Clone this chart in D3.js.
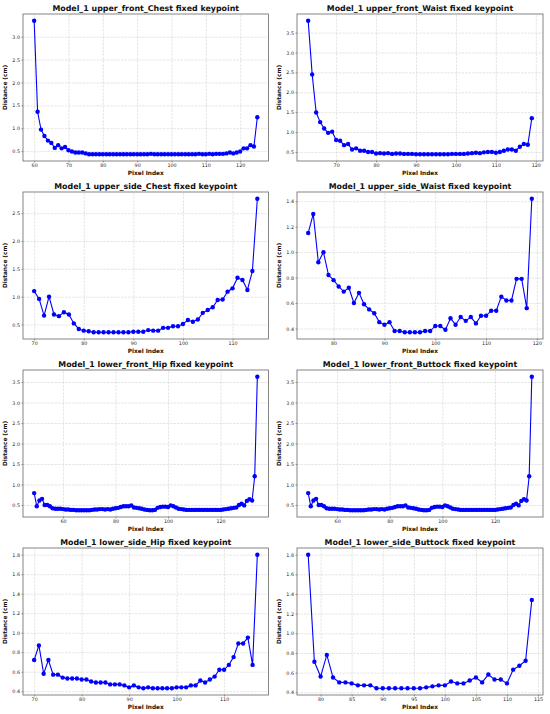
<!DOCTYPE html>
<html><head><meta charset="utf-8">
<script src="https://cdn.jsdelivr.net/npm/d3@7"></script>
<style>
html,body{margin:0;padding:0;background:#fff;}
svg{display:block;font-family:"DejaVu Sans",sans-serif;}
</style></head>
<body>
<svg id="chart" width="550" height="714"></svg>
<script>
// ---- data ----
const titles = [
  "Model_1 upper_front_Chest fixed keypoint",
  "Model_1 upper_front_Waist fixed keypoint",
  "Model_1 upper_side_Chest fixed keypoint",
  "Model_1 upper_side_Waist fixed keypoint",
  "Model_1 lower_front_Hip fixed keypoint",
  "Model_1 lower_front_Buttock fixed keypoint",
  "Model_1 lower_side_Hip fixed keypoint",
  "Model_1 lower_side_Buttock fixed keypoint"
];
const xStarts = [60, 63, 70, 75, 49, 49, 70, 78];

const upperFrontChest = [3.35,1.36,0.97,0.83,0.73,0.68,0.57,0.63,0.56,0.59,
  0.52,0.49,0.47,0.47,0.47,0.45,0.43,0.43,0.43,0.43,
  0.43,0.43,0.43,0.43,0.43,0.43,0.43,0.43,0.43,0.43,
  0.43,0.43,0.43,0.43,0.44,0.43,0.43,0.43,0.43,0.43,
  0.43,0.43,0.43,0.43,0.43,0.43,0.43,0.43,0.44,0.43,
  0.43,0.44,0.43,0.44,0.44,0.44,0.45,0.47,0.45,0.47,
  0.49,0.56,0.56,0.63,0.60,1.24];
const upperFrontWaist = [3.80,2.45,1.49,1.25,1.09,0.98,1.01,0.80,0.78,0.67,
  0.70,0.56,0.59,0.53,0.53,0.50,0.50,0.46,0.47,0.46,
  0.47,0.45,0.46,0.46,0.45,0.45,0.45,0.44,0.44,0.44,
  0.44,0.44,0.44,0.44,0.44,0.44,0.45,0.45,0.45,0.45,
  0.46,0.47,0.48,0.47,0.49,0.50,0.50,0.48,0.50,0.53,
  0.56,0.56,0.53,0.63,0.70,0.68,1.35];
const upperSideChest = [1.10,0.96,0.66,1.00,0.68,0.65,0.72,0.68,0.52,0.42,
  0.39,0.38,0.36,0.36,0.36,0.36,0.36,0.36,0.36,0.36,
  0.37,0.37,0.37,0.40,0.39,0.39,0.44,0.44,0.47,0.47,
  0.51,0.58,0.55,0.59,0.71,0.76,0.81,0.94,0.95,1.09,
  1.15,1.34,1.30,1.12,1.46,2.76];
const upperSideWaist = [1.15,1.30,0.92,1.00,0.82,0.78,0.73,0.69,0.72,0.60,
  0.68,0.59,0.55,0.52,0.45,0.43,0.45,0.38,0.38,0.37,
  0.37,0.37,0.37,0.38,0.38,0.42,0.42,0.39,0.48,0.43,
  0.49,0.46,0.49,0.44,0.50,0.50,0.54,0.54,0.65,0.62,
  0.62,0.79,0.79,0.56,1.42];
const lowerFrontHip = [0.79,0.47,0.61,0.65,0.50,0.50,0.47,0.42,0.41,0.41,
  0.41,0.40,0.39,0.39,0.38,0.38,0.37,0.37,0.37,0.37,
  0.37,0.37,0.38,0.39,0.39,0.40,0.40,0.39,0.40,0.39,
  0.41,0.42,0.43,0.45,0.47,0.47,0.47,0.49,0.44,0.43,
  0.42,0.41,0.39,0.38,0.37,0.37,0.38,0.43,0.45,0.46,
  0.46,0.45,0.49,0.47,0.44,0.41,0.40,0.39,0.38,0.38,
  0.38,0.38,0.38,0.38,0.38,0.38,0.38,0.38,0.38,0.38,
  0.38,0.38,0.39,0.40,0.41,0.42,0.43,0.44,0.50,0.53,
  0.49,0.60,0.64,0.61,1.20,3.63];
const lowerFrontButtock = [0.79,0.47,0.61,0.65,0.50,0.50,0.47,0.42,0.41,0.41,
  0.41,0.40,0.39,0.39,0.38,0.38,0.37,0.37,0.37,0.37,
  0.37,0.37,0.38,0.39,0.39,0.40,0.40,0.39,0.40,0.39,
  0.41,0.42,0.43,0.45,0.47,0.47,0.47,0.49,0.44,0.43,
  0.42,0.41,0.39,0.38,0.37,0.37,0.38,0.43,0.45,0.46,
  0.46,0.45,0.49,0.47,0.44,0.41,0.40,0.39,0.38,0.38,
  0.38,0.38,0.38,0.38,0.38,0.38,0.38,0.38,0.38,0.38,
  0.38,0.38,0.39,0.40,0.41,0.42,0.43,0.44,0.50,0.53,
  0.49,0.60,0.64,0.61,1.20,3.63];
const lowerSideHip = [0.72,0.87,0.58,0.72,0.57,0.57,0.54,0.53,0.53,0.53,
  0.52,0.52,0.50,0.49,0.49,0.49,0.47,0.47,0.47,0.46,
  0.44,0.46,0.44,0.43,0.44,0.43,0.43,0.43,0.43,0.43,
  0.44,0.44,0.44,0.46,0.46,0.51,0.49,0.52,0.55,0.62,
  0.62,0.67,0.75,0.89,0.89,0.95,0.67,1.80];
const lowerSideButtock = [1.80,0.71,0.56,0.78,0.55,0.50,0.50,0.49,0.47,0.47,
  0.47,0.44,0.44,0.44,0.44,0.44,0.44,0.44,0.44,0.45,
  0.46,0.47,0.47,0.51,0.49,0.49,0.52,0.55,0.50,0.58,
  0.53,0.53,0.49,0.63,0.67,0.72,1.34];

const yTickSets = [
  [0.5,1.0,1.5,2.0,2.5,3.0],
  [0.5,1.0,1.5,2.0,2.5,3.0,3.5],
  [0.5,1.0,1.5,2.0,2.5],
  [0.4,0.6,0.8,1.0,1.2,1.4],
  [0.5,1.0,1.5,2.0,2.5,3.0,3.5],
  [0.5,1.0,1.5,2.0,2.5,3.0,3.5],
  [0.4,0.6,0.8,1.0,1.2,1.4,1.6,1.8],
  [0.4,0.6,0.8,1.0,1.2,1.4,1.6,1.8]
];
const xTickSets = [
  [60,70,80,90,100,110,120],
  [70,80,90,100,110,120],
  [70,80,90,100,110],
  [80,90,100,110,120],
  [60,80,100,120],
  [60,80,100,120],
  [70,80,90,100,110],
  [80,85,90,95,100,105,110,115]
];
const seriesList = [upperFrontChest, upperFrontWaist, upperSideChest, upperSideWaist,
  lowerFrontHip, lowerFrontButtock, lowerSideHip, lowerSideButtock];

// ---- layout ----
const svg = d3.select("#chart");
const colLeft = [23, 297], colRight = [268.5, 543];
const rowTop = [14, 192, 370, 548], plotH = 147;

seriesList.forEach((vals, i) => {
  const col = i % 2, row = Math.floor(i / 2);
  const x0 = colLeft[col], x1 = colRight[col];
  const y0 = rowTop[row], y1 = y0 + plotH;
  const pts = vals.map((v, k) => ({x: xStarts[i] + k, y: v}));
  const xe = d3.extent(pts, d => d.x), ye = d3.extent(pts, d => d.y);
  const xp = (xe[1] - xe[0]) * 0.05, yp = (ye[1] - ye[0]) * 0.05;
  const xs = d3.scaleLinear().domain([xe[0] - xp, xe[1] + xp]).range([x0, x1]);
  const ys = d3.scaleLinear().domain([ye[0] - yp, ye[1] + yp]).range([y1, y0]);

  const g = svg.append("g");
  // grid
  g.append("g").attr("transform", `translate(0,${y1})`)
    .call(d3.axisBottom(xs).tickValues(xTickSets[i]).tickSize(-(y1 - y0)).tickFormat(""))
    .call(a => a.select(".domain").remove())
    .call(a => a.selectAll("line").attr("stroke", "#d4d4d4").attr("stroke-width", 0.6).attr("stroke-dasharray", "2.5,1"));
  g.append("g").attr("transform", `translate(${x0},0)`)
    .call(d3.axisLeft(ys).tickValues(yTickSets[i]).tickSize(-(x1 - x0)).tickFormat(""))
    .call(a => a.select(".domain").remove())
    .call(a => a.selectAll("line").attr("stroke", "#d4d4d4").attr("stroke-width", 0.6).attr("stroke-dasharray", "2.5,1"));

  // axes with tick labels
  const xa = g.append("g").attr("transform", `translate(0,${y1})`)
    .call(d3.axisBottom(xs).tickValues(xTickSets[i]).tickSize(1.5).tickPadding(1.5).tickFormat(d3.format("d")));
  const ya = g.append("g").attr("transform", `translate(${x0},0)`)
    .call(d3.axisLeft(ys).tickValues(yTickSets[i]).tickSize(1.5).tickPadding(1.5).tickFormat(d3.format(".1f")));
  [xa, ya].forEach(a => {
    a.select(".domain").remove();
    a.selectAll("line").attr("stroke", "#333").attr("stroke-width", 0.5);
    a.selectAll("text").attr("font-size", 4.8).attr("fill", "#222").attr("font-family", "DejaVu Sans");
  });

  // line + markers
  const line = d3.line().x(d => xs(d.x)).y(d => ys(d.y));
  g.append("path").datum(pts).attr("d", line).attr("fill", "none")
    .attr("stroke", "#0000ff").attr("stroke-width", 1.1);
  g.selectAll("circle.m").data(pts).join("circle").attr("class", "m")
    .attr("cx", d => xs(d.x)).attr("cy", d => ys(d.y)).attr("r", 2.2).attr("fill", "#0000ff");

  // frame
  g.append("rect").attr("x", x0).attr("y", y0).attr("width", x1 - x0).attr("height", y1 - y0)
    .attr("fill", "none").attr("stroke", "#666").attr("stroke-width", 0.8);

  // labels
  g.append("text").attr("x", (x0 + x1) / 2).attr("y", y0 - 3.3).attr("text-anchor", "middle")
    .attr("font-size", 7.9).attr("font-weight", "bold").attr("fill", "#111").text(titles[i]);
  g.append("text").attr("x", (x0 + x1) / 2).attr("y", y1 + 14.3).attr("text-anchor", "middle")
    .attr("font-size", 5.8).attr("font-weight", "bold").attr("fill", "#111").text("Pixel Index");
  g.append("text").attr("transform", `translate(${x0 - 16},${(y0 + y1) / 2}) rotate(-90)`)
    .attr("text-anchor", "middle").attr("font-size", 5.8).attr("font-weight", "bold").attr("fill", "#111")
    .text("Distance (cm)");
});
</script>
</body></html>
